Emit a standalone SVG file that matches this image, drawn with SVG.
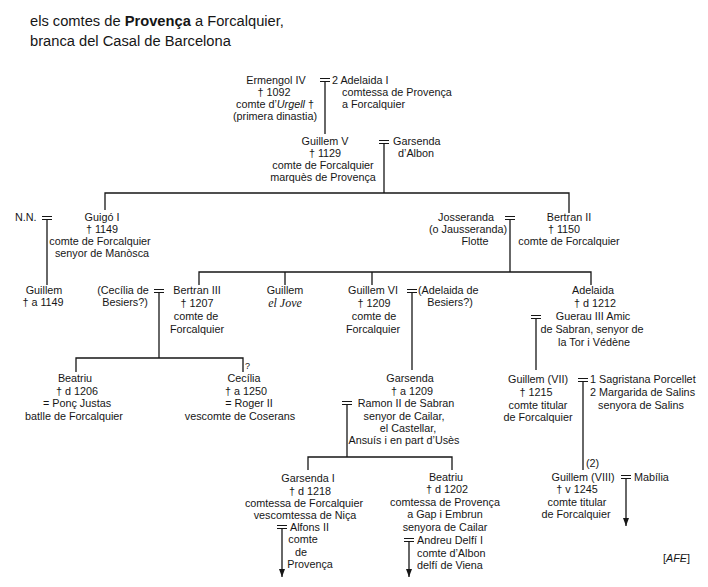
<svg xmlns="http://www.w3.org/2000/svg" width="708" height="587" viewBox="0 0 708 587">
<style>
text{font-family:"Liberation Sans",Arial,Helvetica,sans-serif;font-size:10.8px;fill:#161616}
.m{text-anchor:middle}
.title{font-size:14.7px}
.b{font-weight:bold}
.i{font-style:italic}
.serif{font-family:"Liberation Serif","Times New Roman",serif;font-style:italic;font-size:12px}
.q{font-size:9px}
.ln{stroke:#161616;stroke-width:1.3;fill:none}
.eq{stroke:#161616;stroke-width:1.1;fill:none}
</style>
<defs>
<marker id="arr" markerWidth="8" markerHeight="6" refX="8" refY="3" orient="auto" markerUnits="userSpaceOnUse" viewBox="0 0 8 6">
<path d="M0,0 L8,3 L0,6 Z" fill="#161616"/>
</marker>
</defs>
<rect width="708" height="587" fill="#ffffff"/>

<g id="title">
<text class="title" x="30" y="26">els comtes de <tspan class="b">Provença</tspan> a Forcalquier,</text>
<text class="title" x="30" y="46">branca del Casal de Barcelona</text>
</g>

<g id="connectors">
<path class="eq" d="M320,78.5H330M320,81.5H330"/>
<path class="ln" d="M325,81.5V134"/>
<path class="eq" d="M379,140.5H389M379,143.5H389"/>
<path class="ln" d="M384,143.5V193"/>
<path class="ln" d="M105,210V193H569V213"/>
<path class="eq" d="M42,216.5H52M42,219.5H52"/>
<path class="ln" d="M47,219.5V285"/>
<path class="eq" d="M505,216.5H515M505,219.5H515"/>
<path class="ln" d="M510,219.5V272"/>
<path class="ln" d="M199,285V272H591V285M285,272V285M372,272V285"/>
<path class="eq" d="M154,289.5H164M154,292.5H164"/>
<path class="ln" d="M159,292.5V358"/>
<path class="ln" d="M76,372V358H243V372"/>
<path class="eq" d="M407,289.5H417M407,292.5H417"/>
<path class="ln" d="M412,292.5V370"/>
<path class="eq" d="M531,315.5H541M531,318.5H541"/>
<path class="ln" d="M536,318.5V370"/>
<path class="eq" d="M342,401.5H352M342,404.5H352"/>
<path class="ln" d="M347,404.5V457"/>
<path class="ln" d="M308,470V457H452V470"/>
<path class="eq" d="M578,378.5H588M578,381.5H588"/>
<path class="ln" d="M583,381.5V470"/>
<path class="eq" d="M277,525.5H287M277,528.5H287"/>
<path class="ln" d="M282,528.5V577" marker-end="url(#arr)"/>
<path class="eq" d="M404,538.5H414M404,541.5H414"/>
<path class="ln" d="M409,541.5V577" marker-end="url(#arr)"/>
<path class="eq" d="M621,475.5H631M621,478.5H631"/>
<path class="ln" d="M626,478.5V526" marker-end="url(#arr)"/>
</g>

<g id="ermengol">
<text class="m" x="276" y="84">Ermengol IV</text>
<text class="m" x="274" y="96">† 1092</text>
<text class="m" x="275" y="108">comte d’<tspan class="i">Urgell</tspan> †</text>
<text class="m" x="275" y="120">(primera dinastia)</text>
</g>

<g id="adelaida-i">
<text x="332" y="84">2 Adelaida I</text>
<text x="342" y="96">comtessa de Provença</text>
<text x="342" y="108">a Forcalquier</text>
</g>

<g id="guillem-v">
<text class="m" x="325" y="145">Guillem V</text>
<text class="m" x="325" y="157">† 1129</text>
<text class="m" x="323" y="169">comte de Forcalquier</text>
<text class="m" x="323" y="181">marquès de Provença</text>
</g>

<g id="garsenda-albon">
<text x="393" y="145">Garsenda</text>
<text class="m" x="416" y="157">d’Albon</text>
</g>

<g id="nn">
<text x="15" y="221">N.N.</text>
</g>

<g id="guigo-i">
<text class="m" x="102" y="221">Guigó I</text>
<text class="m" x="102" y="233">† 1149</text>
<text class="m" x="100" y="245">comte de Forcalquier</text>
<text class="m" x="102" y="257">senyor de Manòsca</text>
</g>

<g id="guillem-1149">
<text class="m" x="44" y="294">Guillem</text>
<text class="m" x="43" y="306">† a 1149</text>
</g>

<g id="josseranda">
<text class="m" x="466" y="221">Josseranda</text>
<text class="m" x="468" y="233">(o Jausseranda)</text>
<text class="m" x="475" y="245">Flotte</text>
</g>

<g id="bertran-ii">
<text class="m" x="569" y="221">Bertran II</text>
<text class="m" x="564" y="233">† 1150</text>
<text class="m" x="569" y="245">comte de Forcalquier</text>
</g>

<g id="cecilia-besiers">
<text class="m" x="123" y="294">(Cecília de</text>
<text class="m" x="125" y="306">Besiers?)</text>
</g>

<g id="bertran-iii">
<text class="m" x="197" y="294">Bertran III</text>
<text class="m" x="197" y="307">† 1207</text>
<text class="m" x="196" y="320">comte de</text>
<text class="m" x="197" y="333">Forcalquier</text>
</g>

<g id="guillem-jove">
<text class="m" x="285" y="294">Guillem</text>
<text class="m serif" x="285" y="307">el Jove</text>
</g>

<g id="guillem-vi">
<text class="m" x="373" y="294">Guillem VI</text>
<text class="m" x="374" y="307">† 1209</text>
<text class="m" x="374" y="320">comte de</text>
<text class="m" x="373" y="333">Forcalquier</text>
</g>

<g id="adelaida-besiers">
<text x="418" y="294">(Adelaida de</text>
<text class="m" x="450" y="306">Besiers?)</text>
</g>

<g id="adelaida">
<text class="m" x="593" y="294">Adelaida</text>
<text class="m" x="595" y="307">† d 1212</text>
<text class="m" x="593" y="320">Guerau III Amic</text>
<text class="m" x="592" y="333">de Sabran, senyor de</text>
<text class="m" x="594" y="346">la Tor i Védène</text>
</g>

<g id="beatriu-1206">
<text class="m" x="75" y="382">Beatriu</text>
<text class="m" x="77" y="395">† d 1206</text>
<text class="m" x="77" y="407">= Ponç Justas</text>
<text class="m" x="74" y="420">batlle de Forcalquier</text>
</g>

<g id="cecilia">
<text class="q" x="245" y="369">?</text>
<text class="m" x="244" y="382">Cecília</text>
<text class="m" x="246" y="395">† a 1250</text>
<text class="m" x="249" y="407">= Roger II</text>
<text class="m" x="240" y="420">vescomte de Coserans</text>
</g>

<g id="garsenda">
<text class="m" x="410" y="382">Garsenda</text>
<text class="m" x="412" y="395">† a 1209</text>
<text class="m" x="406" y="407">Ramon II de Sabran</text>
<text class="m" x="404" y="420">senyor de Cailar,</text>
<text class="m" x="408" y="432">el Castellar,</text>
<text class="m" x="404" y="444">Ansuís i en part d’Usès</text>
</g>

<g id="guillem-vii">
<text class="m" x="538" y="383">Guillem (VII)</text>
<text class="m" x="536" y="396">† 1215</text>
<text class="m" x="538" y="409">comte titular</text>
<text class="m" x="538" y="421">de Forcalquier</text>
</g>

<g id="sagristana-margarida">
<text x="590" y="383">1 Sagristana Porcellet</text>
<text x="590" y="396">2 Margarida de Salins</text>
<text x="598" y="409">senyora de Salins</text>
</g>

<g id="garsenda-i">
<text class="m" x="308" y="482">Garsenda I</text>
<text class="m" x="310" y="495">† d 1218</text>
<text class="m" x="304" y="507">comtessa de Forcalquier</text>
<text class="m" x="305" y="519">vescomtessa de Niça</text>
<text x="290" y="531">Alfons II</text>
<text class="m" x="303" y="543">comte</text>
<text class="m" x="301" y="556">de</text>
<text class="m" x="310" y="568">Provença</text>
</g>

<g id="beatriu-1202">
<text class="m" x="446" y="481">Beatriu</text>
<text class="m" x="447" y="493">† d 1202</text>
<text class="m" x="445" y="506">comtessa de Provença</text>
<text class="m" x="445" y="518">a Gap i Embrun</text>
<text class="m" x="445" y="531">senyora de Cailar</text>
<text x="417" y="544">Andreu Delfí I</text>
<text x="417" y="557">comte d’Albon</text>
<text x="417" y="569">delfí de Viena</text>
</g>

<g id="guillem-viii">
<text x="586" y="467">(2)</text>
<text class="m" x="583" y="481">Guillem (VIII)</text>
<text class="m" x="577" y="493">† v 1245</text>
<text class="m" x="577" y="506">comte titular</text>
<text class="m" x="576" y="518">de Forcalquier</text>
</g>

<g id="mabilia">
<text x="634" y="481">Mabília</text>
</g>

<g id="credit">
<text x="663" y="562">[<tspan class="i">AFE</tspan>]</text>
</g>
</svg>
